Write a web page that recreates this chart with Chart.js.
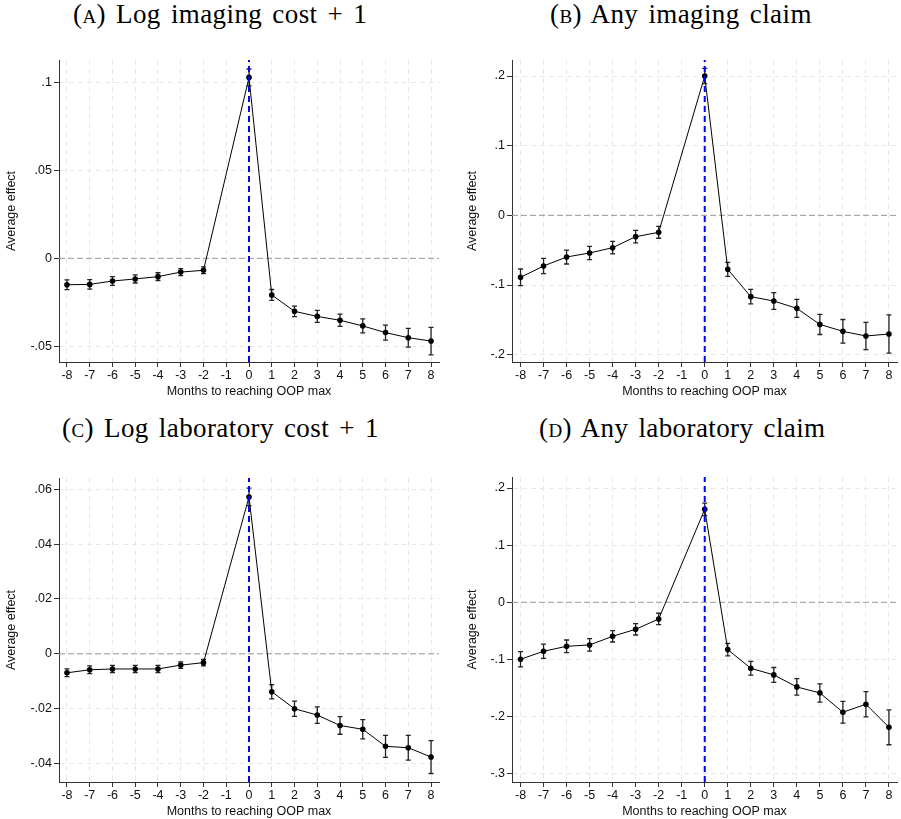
<!DOCTYPE html>
<html><head><meta charset="utf-8">
<script src="https://cdn.jsdelivr.net/npm/chart.js@4.4.1/dist/chart.umd.min.js"></script>
<style>
html,body{margin:0;padding:0;background:#fff;width:901px;height:819px;overflow:hidden;position:relative}
canvas{position:absolute}
.ttl{position:absolute;font-family:"Liberation Serif","Times New Roman",serif;font-size:27px;line-height:26px;color:#000;white-space:nowrap;letter-spacing:0.4px;word-spacing:3px}
.sc{font-variant:small-caps}
</style></head><body>
<div class="ttl" style="left:73px;top:1px">(<span class="sc">a</span>) Log imaging cost + 1</div>
<div class="ttl" style="left:550px;top:1px">(<span class="sc">b</span>) Any imaging claim</div>
<div class="ttl" style="left:62px;top:415px">(<span class="sc">c</span>) Log laboratory cost + 1</div>
<div class="ttl" style="left:539px;top:415px">(<span class="sc">d</span>) Any laboratory claim</div>
<canvas id="cA" width="450" height="360" style="left:0;top:40px"></canvas>
<canvas id="cB" width="451" height="360" style="left:450px;top:40px"></canvas>
<canvas id="cC" width="450" height="363" style="left:0;top:457px"></canvas>
<canvas id="cD" width="451" height="363" style="left:450px;top:457px"></canvas>
<script>
// Months relative to reaching the OOP max (month -1 is the omitted reference)
const months = [-8, -7, -6, -5, -4, -3, -2, 0, 1, 2, 3, 4, 5, 6, 7, 8];
const xTicks = [-8, -7, -6, -5, -4, -3, -2, -1, 0, 1, 2, 3, 4, 5, 6, 7, 8];
const xTitle = 'Months to reaching OOP max';
const yTitle = 'Average effect';

// (A) Log imaging cost + 1
const imgCostVals = [-0.0150, -0.0148, -0.0129, -0.0117, -0.0104, -0.0078, -0.0068, 0.1028, -0.0208, -0.0301, -0.0330, -0.0352, -0.0384, -0.0422, -0.0451, -0.0470];
const imgCostErr  = [0.0028, 0.0027, 0.0025, 0.0023, 0.0022, 0.0020, 0.0019, 0.0048, 0.0031, 0.0030, 0.0034, 0.0035, 0.0040, 0.0043, 0.0053, 0.0078];
const imgCostTicks = [-0.05, 0, 0.05, 0.1];

// (B) Any imaging claim
const imgAnyVals = [-0.0890, -0.0727, -0.0598, -0.0540, -0.0464, -0.0306, -0.0244, 0.2000, -0.0775, -0.1167, -0.1230, -0.1335, -0.1565, -0.1665, -0.1732, -0.1703];
const imgAnyErr  = [0.0120, 0.0110, 0.0100, 0.0095, 0.0090, 0.0090, 0.0085, 0.0110, 0.0100, 0.0105, 0.0120, 0.0130, 0.0145, 0.0170, 0.0196, 0.0275];
const imgAnyTicks = [-0.2, -0.1, 0, 0.1, 0.2];

// (C) Log laboratory cost + 1
const labCostVals = [-0.0069, -0.0058, -0.0055, -0.0055, -0.0055, -0.0041, -0.0032, 0.0572, -0.0138, -0.0200, -0.0223, -0.0261, -0.0275, -0.0337, -0.0342, -0.0376];
const labCostErr  = [0.0014, 0.0014, 0.0013, 0.0013, 0.0013, 0.0012, 0.0012, 0.0032, 0.0026, 0.0028, 0.0030, 0.0032, 0.0035, 0.0040, 0.0045, 0.0060];
const labCostTicks = [-0.04, -0.02, 0, 0.02, 0.04, 0.06];

// (D) Any laboratory claim
const labAnyVals = [-0.0997, -0.0857, -0.0770, -0.0746, -0.0595, -0.0472, -0.0292, 0.1627, -0.0828, -0.1155, -0.1271, -0.1481, -0.1586, -0.1924, -0.1784, -0.2187];
const labAnyErr  = [0.0134, 0.0125, 0.0110, 0.0110, 0.0100, 0.0100, 0.0100, 0.0110, 0.0110, 0.0120, 0.0130, 0.0145, 0.0160, 0.0190, 0.0220, 0.0306];
const labAnyTicks = [-0.3, -0.2, -0.1, 0, 0.1, 0.2];

function fmtY(v) {
  if (Math.abs(v) < 1e-12) return '0';
  const s = String(Math.round(v * 1000) / 1000);
  return s.replace(/^(-?)0\./, '$1.');
}

const FONT = 'Liberation Sans';

function makeChart(id, vals, errs, yTicks, o) {
  const pts = months.map((m, i) => ({x: m, y: vals[i]}));
  const errPlugin = {
    id: 'errbars',
    beforeDatasetsDraw(chart) {
      const c = chart.ctx, xs = chart.scales.x, ys = chart.scales.y;
      c.save();
      c.strokeStyle = '#222';
      c.lineWidth = 1.3;
      months.forEach((m, i) => {
        const px = xs.getPixelForValue(m);
        const y1 = ys.getPixelForValue(vals[i] - errs[i]);
        const y2 = ys.getPixelForValue(vals[i] + errs[i]);
        c.beginPath();
        c.moveTo(px, y1); c.lineTo(px, y2);
        c.moveTo(px - 2.5, y1); c.lineTo(px + 2.5, y1);
        c.moveTo(px - 2.5, y2); c.lineTo(px + 2.5, y2);
        c.stroke();
      });
      c.restore();
    }
  };
  const tickFont = {family: FONT, size: 12.5};
  const titleFont = {family: FONT, size: 12.5, lineHeight: 1.2};
  new Chart(document.getElementById(id), {
    type: 'line',
    data: {datasets: [
      {data: [{x: 0, y: o.yMin}, {x: 0, y: o.yMax}], borderColor: '#0000ff', borderWidth: 2, borderDash: [6, 4], pointRadius: 0, order: 0},
      {data: pts, borderColor: '#000', borderWidth: 1, tension: 0, pointRadius: 2.8, pointBackgroundColor: '#000', pointBorderWidth: 0, order: 1},
      {data: [{x: o.xMin, y: 0}, {x: o.xMax, y: 0}], borderColor: '#9a9a9a', borderWidth: 1, borderDash: [6, 3], pointRadius: 0, order: 2}
    ]},
    options: {
      responsive: false, animation: false, devicePixelRatio: 1,
      layout: {padding: {left: 0, right: o.padRight, top: o.padTop, bottom: 0}},
      plugins: {legend: {display: false}, tooltip: {enabled: false}},
      scales: {
        x: {
          type: 'linear', min: o.xMin, max: o.xMax,
          afterBuildTicks(s) { s.ticks = xTicks.map(v => ({value: v})); },
          afterFit(s) { s.height = o.xH; },
          grid: {color: '#e8e8e8', lineWidth: 1, drawTicks: true, tickLength: 5, tickColor: '#333', tickWidth: 1, tickBorderDash: []},
          border: {display: true, color: '#333', width: 1, dash: [5, 4]},
          ticks: {color: '#111', font: tickFont, padding: 1, maxRotation: 0, autoSkip: false, callback: v => String(v)},
          title: {display: true, text: xTitle, color: '#111', font: titleFont, padding: {top: 0, bottom: 1}}
        },
        y: {
          type: 'linear', min: o.yMin, max: o.yMax,
          afterBuildTicks(s) { s.ticks = yTicks.map(v => ({value: v})); },
          afterFit(s) { s.width = o.yW; },
          grid: {color: '#e8e8e8', lineWidth: 1, drawTicks: true, tickLength: 5, tickColor: '#333', tickWidth: 1, tickBorderDash: []},
          border: {display: true, color: '#333', width: 1, dash: [5, 4]},
          ticks: {color: '#111', font: tickFont, padding: 2, autoSkip: false, callback: v => fmtY(v)},
          title: {display: true, text: yTitle, color: '#111', font: titleFont, padding: {top: o.yTitlePad, bottom: 0}}
        }
      }
    },
    plugins: [errPlugin]
  });
}

makeChart('cA', imgCostVals, imgCostErr, imgCostTicks, {xMin: -8.35, xMax: 8.35, yMin: -0.0589, yMax: 0.1127, padRight: 11, padTop: 20, yW: 59, xH: 38, yTitlePad: 4.3});
makeChart('cB', imgAnyVals, imgAnyErr, imgAnyTicks, {xMin: -8.37, xMax: 8.35, yMin: -0.2105, yMax: 0.223, padRight: 1, padTop: 20, yW: 62, xH: 38, yTitlePad: 14.8});
makeChart('cC', labCostVals, labCostErr, labCostTicks, {xMin: -8.35, xMax: 8.35, yMin: -0.0467, yMax: 0.0641, padRight: 11, padTop: 21, yW: 59, xH: 38, yTitlePad: 4.0});
makeChart('cD', labAnyVals, labAnyErr, labAnyTicks, {xMin: -8.37, xMax: 8.35, yMin: -0.3145, yMax: 0.2193, padRight: 1, padTop: 20, yW: 62, xH: 38, yTitlePad: 14.8});
</script>
</body></html>
